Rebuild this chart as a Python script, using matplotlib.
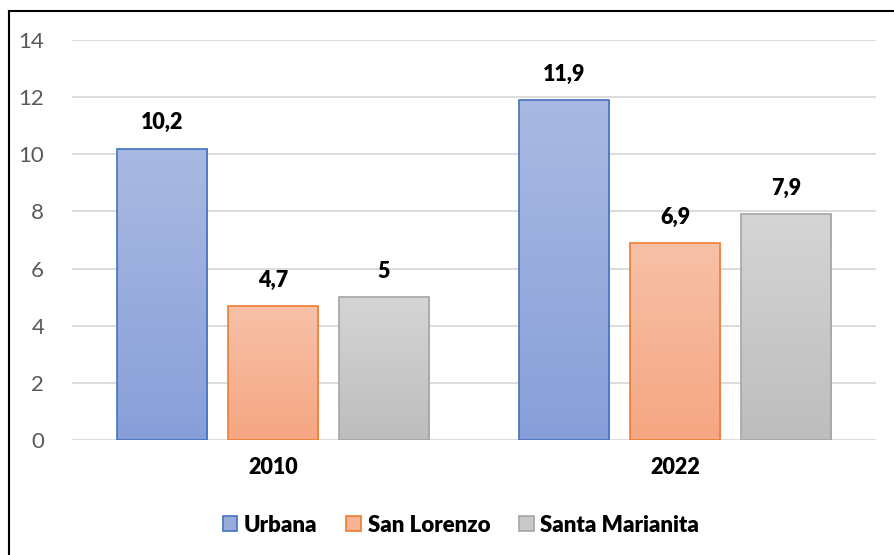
import matplotlib
matplotlib.use("Agg")
import matplotlib.pyplot as plt
import numpy as np
from matplotlib.colors import LinearSegmentedColormap
from matplotlib.patches import Patch
from matplotlib.lines import Line2D

categories = ["2010", "2022"]
series_names = ["Urbana", "San Lorenzo", "Santa Marianita"]
urbana = [10.2, 11.9]
san_lorenzo = [4.7, 6.9]
santa_marianita = [5.0, 7.9]
value_labels = [["10,2", "11,9"], ["4,7", "6,9"], ["5", "7,9"]]
y_ticks = [0, 2, 4, 6, 8, 10, 12, 14]

top_colors = ["#aab9e1", "#f7c1a8", "#d5d5d5"]
bottom_colors = ["#879fd9", "#f5a682", "#bdbdbd"]
edge_colors = ["#4472c4", "#ed7d31", "#a5a5a5"]

plt.rcParams['font.family'] = ['Lato', 'DejaVu Sans']

W, H = 894, 555
fig = plt.figure(figsize=(W / 100, H / 100), dpi=100)
ax = fig.add_axes([72 / W, (H - 440) / H, (876 - 72) / W, 400 / H])

x = np.arange(len(categories))
width = 0.224
step = 0.276
series = [urbana, san_lorenzo, santa_marianita]

for i, vals in enumerate(series):
    offs = (i - 1) * step
    bars = ax.bar(x + offs, vals, width, facecolor="none", edgecolor=edge_colors[i],
                  linewidth=1.2, zorder=4)
    cmap = LinearSegmentedColormap.from_list("g%d" % i, [bottom_colors[i], top_colors[i]])
    grad = np.linspace(0, 1, 256).reshape(-1, 1)
    for b, lab in zip(bars, value_labels[i]):
        x0, y0 = b.get_x(), b.get_y()
        bw, bh = b.get_width(), b.get_height()
        im = ax.imshow(grad, extent=(x0, x0 + bw, y0, y0 + bh), origin="lower",
                       cmap=cmap, aspect="auto", zorder=3, interpolation="bilinear")
        im.set_clip_path(b)
        ax.annotate(lab, (x0 + bw / 2, y0 + bh), xytext=(0, 11), textcoords="offset points",
                    ha="center", va="bottom", fontsize=15.5, fontweight="heavy", color="black")

ax.set_xlim(-0.5, 1.5)
ax.set_ylim(0, 14)
ax.set_yticks(y_ticks)
ax.set_yticklabels([str(t) for t in y_ticks])
ax.set_xticks(x)
ax.set_xticklabels(categories, fontweight="heavy", fontsize=15.5)
ax.tick_params(axis="y", length=0, pad=20, labelsize=16, labelcolor="#595959")
ax.tick_params(axis="x", length=0, pad=12, labelcolor="black")
ax.grid(axis="y", color="#d9d9d9", linewidth=1.3, zorder=0)
ax.set_axisbelow(True)
for s in ax.spines.values():
    s.set_visible(False)

handles = [Patch(facecolor=(np.array(matplotlib.colors.to_rgb(top_colors[i])) +
                            np.array(matplotlib.colors.to_rgb(bottom_colors[i]))) / 2,
                 edgecolor=edge_colors[i], linewidth=1.2, label=series_names[i])
           for i in range(3)]
leg = fig.legend(handles=handles, loc="center", bbox_to_anchor=(461 / W, (H - 525) / H),
                 ncol=3, frameon=False, handlelength=0.65, handleheight=0.65,
                 handletextpad=0.3, columnspacing=1.3,
                 prop={"weight": "heavy", "size": 16})

fig.add_artist(Line2D([8.5 / W, 8.5 / W], [0, (H - 10.5) / H], transform=fig.transFigure,
                      color="black", linewidth=1.5))
fig.add_artist(Line2D([8.5 / W, 1], [(H - 10.5) / H, (H - 10.5) / H], transform=fig.transFigure,
                      color="black", linewidth=1.5))

fig.savefig("out.png", dpi=100)
